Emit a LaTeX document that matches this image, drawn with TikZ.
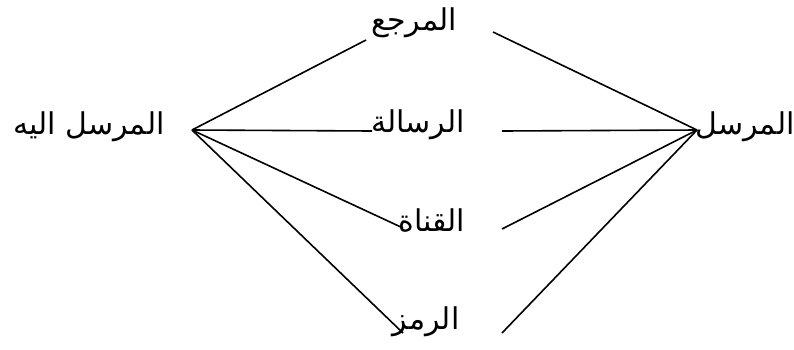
\documentclass[tikz,border=0pt]{standalone}
\usepackage{fontspec}
\newfontfamily\arabicfont[Script=Arabic]{DejaVu Sans}
\TeXXeTstate=1
\begin{document}
\begin{tikzpicture}[x=1pt,y=-1pt,
  lbl/.style={inner sep=0pt,font=\arabicfont\fontsize{30}{34}\selectfont},
  link/.style={draw=black,line width=1.6pt}]
\useasboundingbox (0,0) rectangle (794,349);
% labels
\node[lbl] (recv) at (89,127) {\beginR المرسل اليه\endR};
\node[lbl] (sender) at (745,127) {\beginR المرسل\endR};
\node[lbl] (ref) at (414,23) {\beginR المرجع\endR};
\node[lbl] (msg) at (418,125) {\beginR الرسالة\endR};
\node[lbl] (chan) at (432,221) {\beginR القناة\endR};
\node[lbl] (code) at (426,322) {\beginR الرمز\endR};
% vertices
\coordinate (lv) at (192,130);
\coordinate (rv) at (697,130);
% left ends
\coordinate (refL) at (366,40);
\coordinate (msgL) at (372,131);
\coordinate (chanL) at (403,228);
\coordinate (codeL) at (403,333);
% right ends
\coordinate (refR) at (493,32);
\coordinate (msgR) at (502,131);
\coordinate (chanR) at (502,229);
\coordinate (codeR) at (502,333);
\draw[link] (lv) -- (refL);
\draw[link] (lv) -- (msgL);
\draw[link] (lv) -- (chanL);
\draw[link] (lv) -- (codeL);
\draw[link] (refR) -- (rv);
\draw[link] (msgR) -- (rv);
\draw[link] (chanR) -- (rv);
\draw[link] (codeR) -- (rv);
\end{tikzpicture}
\end{document}
